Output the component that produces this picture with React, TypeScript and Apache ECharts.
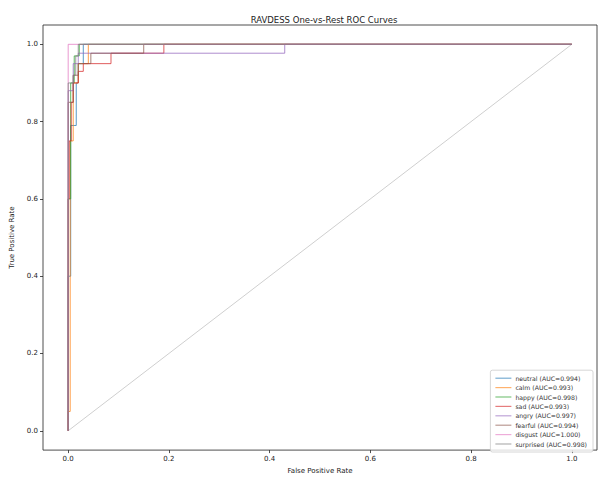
import React, { useEffect, useRef } from "react";
import * as echarts from "echarts";

const classNames = ["neutral", "calm", "happy", "sad", "angry", "fearful", "disgust", "surprised"];
const aucValues = ["0.994", "0.993", "0.998", "0.993", "0.997", "0.994", "1.000", "0.998"];
const colors = ["#1f77b4", "#ff7f0e", "#2ca02c", "#d62728", "#9467bd", "#8c564b", "#e377c2", "#7f7f7f"];

const neutralRoc = [[0, 0], [0, 0.4], [0.005, 0.4], [0.005, 0.79], [0.016, 0.79], [0.016, 0.9], [0.02, 0.9], [0.02, 0.95], [0.03, 0.95], [0.03, 1], [1, 1]];
const calmRoc = [[0, 0], [0, 0.05], [0.004, 0.05], [0.004, 0.75], [0.01, 0.75], [0.01, 0.9], [0.02, 0.9], [0.02, 0.95], [0.04, 0.95], [0.04, 1], [1, 1]];
const happyRoc = [[0, 0], [0, 0.6], [0.005, 0.6], [0.005, 0.9], [0.012, 0.9], [0.012, 0.97], [0.022, 0.97], [0.022, 1], [1, 1]];
const sadRoc = [[0, 0], [0, 0.6], [0.002, 0.6], [0.002, 0.75], [0.006, 0.75], [0.006, 0.85], [0.01, 0.85], [0.01, 0.9], [0.02, 0.9], [0.02, 0.93], [0.03, 0.93], [0.03, 0.95], [0.085, 0.95], [0.085, 0.977], [0.19, 0.977], [0.19, 1], [1, 1]];
const angryRoc = [[0, 0], [0, 0.88], [0.01, 0.88], [0.01, 0.95], [0.02, 0.95], [0.02, 0.977], [0.43, 0.977], [0.43, 1], [1, 1]];
const fearfulRoc = [[0, 0], [0, 0.85], [0.01, 0.85], [0.01, 0.92], [0.02, 0.92], [0.02, 0.95], [0.045, 0.95], [0.045, 0.977], [0.15, 0.977], [0.15, 1], [1, 1]];
const disgustRoc = [[0, 0], [0, 1], [1, 1]];
const surprisedRoc = [[0, 0], [0, 0.9], [0.01, 0.9], [0.01, 0.92], [0.015, 0.92], [0.015, 0.97], [0.02, 0.97], [0.02, 1], [1, 1]];
const chanceLine = [[0, 0], [1, 1]];

const rocCurves = [neutralRoc, calmRoc, happyRoc, sadRoc, angryRoc, fearfulRoc, disgustRoc, surprisedRoc];
const tickValues = [0, 0.2, 0.4, 0.6, 0.8, 1.0];

const FONT = "DejaVu Sans";

export default function App() {
  const ref = useRef<HTMLDivElement>(null);
  useEffect(() => {
    if (!ref.current) return;
    const chart = echarts.init(ref.current, null, { renderer: "svg" });
    const series: any[] = rocCurves.map((data, i) => ({
      name: `${classNames[i]} (AUC=${aucValues[i]})`,
      type: "line",
      data,
      symbol: "none",
      lineStyle: { color: colors[i], width: 1, opacity: 0.75 },
      itemStyle: { color: colors[i], opacity: 0.6 },
      z: 3,
    }));
    series.push({
      name: "chance",
      type: "line",
      data: chanceLine,
      symbol: "none",
      lineStyle: { color: "#cfcfcf", width: 1 },
      itemStyle: { color: "#cfcfcf" },
      z: 2,
    });
    const axisCommon = {
      type: "value",
      min: -0.05,
      max: 1.05,
      splitLine: { show: false },
      axisLine: { show: false, onZero: false },
      axisTick: { show: true, length: 3, lineStyle: { color: "#222", width: 0.8 }, customValues: tickValues },
      axisLabel: {
        color: "#222",
        fontFamily: FONT,
        fontSize: 7,
        customValues: tickValues,
        formatter: (v: number) => v.toFixed(1),
      },
      nameLocation: "middle",
      nameTextStyle: { color: "#222", fontFamily: FONT, fontSize: 7 },
    };
    chart.setOption({
      animation: false,
      backgroundColor: "#fff",
      title: {
        text: "RAVDESS One-vs-Rest ROC Curves",
        left: 319,
        top: 10,
        textAlign: "center",
        textStyle: { fontFamily: FONT, fontSize: 8.5, fontWeight: "normal", color: "#222" },
      },
      grid: {
        left: 40,
        right: 1,
        top: 25,
        bottom: 22,
        show: true,
        borderColor: "#222",
        borderWidth: 0.8,
        backgroundColor: "transparent",
      },
      xAxis: { ...axisCommon, name: "False Positive Rate", nameGap: 14, axisLabel: { ...axisCommon.axisLabel, margin: 5 } },
      yAxis: { ...axisCommon, name: "True Positive Rate", nameGap: 28, axisLabel: { ...axisCommon.axisLabel, margin: 5 } },
      legend: {
        data: series.slice(0, 8).map((s) => ({ name: s.name, icon: "rect" })),
        orient: "vertical",
        right: 5,
        bottom: 27,
        itemWidth: 16,
        itemHeight: 1.2,
        itemGap: 3.4,
        padding: [5, 6, 5, 5],
        borderColor: "#ccc",
        borderWidth: 0.8,
        borderRadius: 2,
        backgroundColor: "rgba(255,255,255,0.8)",
        textStyle: { fontFamily: FONT, fontSize: 6.2, color: "#333", padding: [0, 0, 0, -1] },
      },
      series,
    });
    return () => chart.dispose();
  }, []);
  return <div ref={ref} style={{ position: "fixed", left: 0, top: 0, width: 598, height: 479 }} />;
}
